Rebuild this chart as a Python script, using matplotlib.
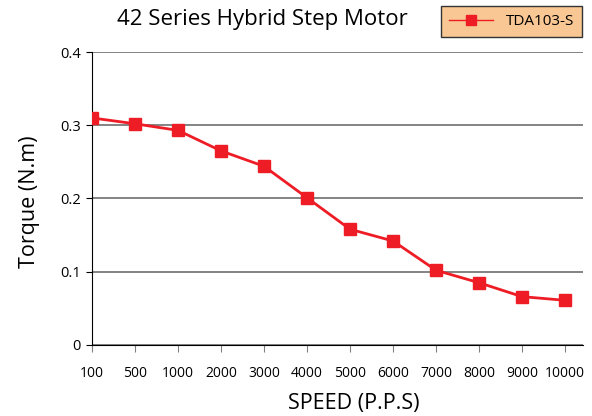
import matplotlib
matplotlib.use("Agg")
import matplotlib.pyplot as plt
import numpy as np

plt.rcParams['font.family'] = ['Open Sans', 'DejaVu Sans']

speed_labels = ['100', '500', '1000', '2000', '3000', '4000', '5000',
                '6000', '7000', '8000', '9000', '10000']
torque = [0.310, 0.302, 0.293, 0.265, 0.244, 0.201, 0.158,
          0.142, 0.102, 0.085, 0.066, 0.061]
y_ticks = [0, 0.1, 0.2, 0.3, 0.4]

fig = plt.figure(figsize=(5.92, 4.16), dpi=100)
ax = fig.add_axes([0.1554, 0.1707, 0.8296, 0.7043])

x = np.arange(len(speed_labels))
ax.plot(x, torque, color='#ee1c25', linewidth=2, marker='s', markersize=9,
        label='TDA103-S', zorder=3)

ax.set_xlim(0, 11.42)
ax.set_ylim(0, 0.4)
ax.set_xticks(x)
ax.set_xticklabels(speed_labels, fontsize=10)
ax.set_yticks(y_ticks)
ax.set_yticklabels(['0', '0.1', '0.2', '0.3', '0.4'], fontsize=10.5)
ax.yaxis.grid(True, color='#6e6e6e', linewidth=1.2)
ax.set_axisbelow(True)

for s in ['top', 'right']:
    ax.spines[s].set_visible(False)
ax.spines['left'].set_color('black')
ax.spines['bottom'].set_color('black')
ax.tick_params(axis='x', length=5, color='#808080', pad=10)
ax.tick_params(axis='y', length=4, color='black', pad=4)

ax.set_xlabel('SPEED (P.P.S)', fontsize=15.5)
ax.xaxis.set_label_coords(0.532, -0.165)
ax.set_ylabel('Torque (N.m)', fontsize=15.5)
ax.yaxis.set_label_coords(-0.106, 0.49)
fig.text(0.443, 0.952, '42 Series Hybrid Step Motor', fontsize=16,
         ha='center', va='center')

leg = ax.legend(loc='center', bbox_to_anchor=(0.864, 0.948),
                bbox_transform=fig.transFigure, fontsize=11, frameon=True,
                fancybox=False, handlelength=2.9, borderpad=0.5,
                markerscale=0.8)
leg.get_frame().set_facecolor('#f9c793')
leg.get_frame().set_edgecolor('#333333')
leg.get_frame().set_alpha(1)
leg.get_lines()[0].set_linewidth(1)

fig.savefig('out.png', dpi=100)
